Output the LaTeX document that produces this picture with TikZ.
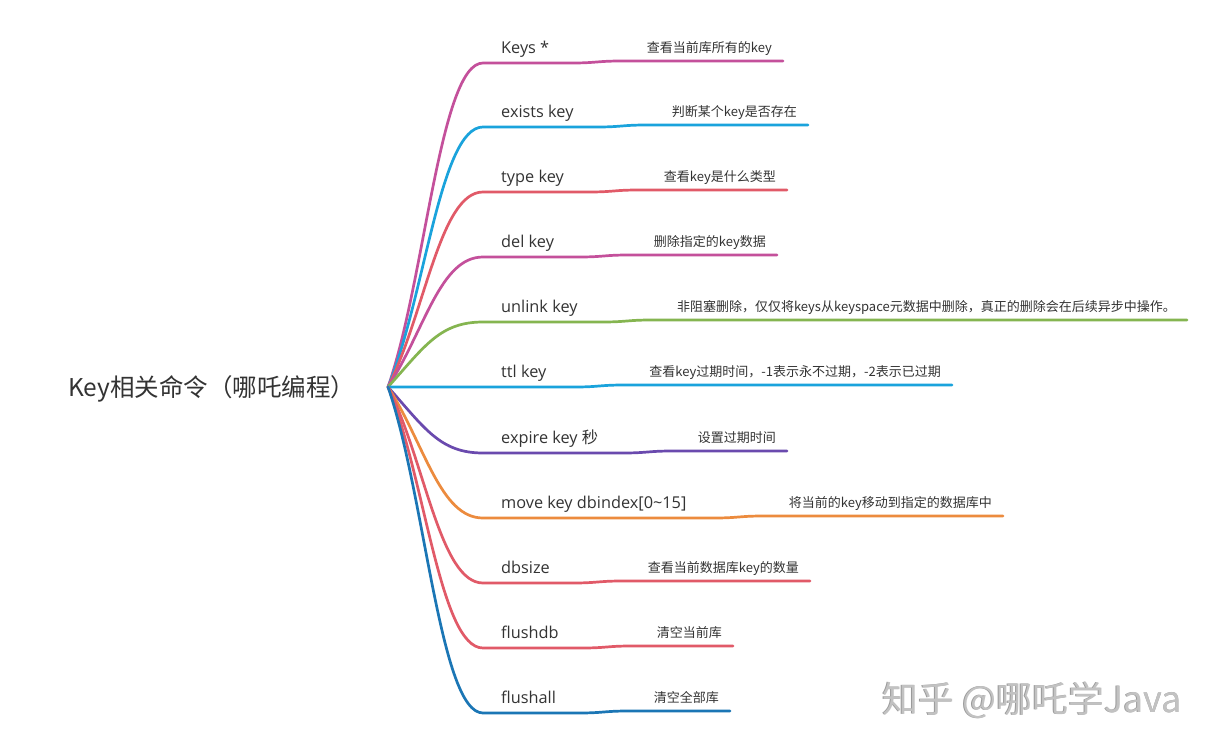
\documentclass[tikz,border=0pt]{standalone}
\usepackage{fontspec}
\usetikzlibrary{calc}
\setmainfont{Open Sans}
\newfontfamily\cjk{Noto Sans CJK SC}
\newfontfamily\lat{Open Sans}
\definecolor{pinkc}{HTML}{C4509B}
\definecolor{cyanc}{HTML}{1AA3DC}
\definecolor{redc}{HTML}{E15A68}
\definecolor{greenc}{HTML}{85B550}
\definecolor{purplec}{HTML}{6A4AAE}
\definecolor{orangec}{HTML}{EC8B3E}
\definecolor{bluec}{HTML}{1B76B5}
\definecolor{txt}{HTML}{333333}
\tikzset{
  lbl/.style={inner sep=0pt, text=txt, font=\lat\fontsize{16.3}{18}\selectfont},
  dsc/.style={inner sep=0pt, text=txt, font=\cjk\fontsize{13}{15}\selectfont},
  branchline/.style={line width=2.7pt, line cap=round},
  wmark/.style={inner sep=0pt, font=\cjk\fontsize{36}{38}\selectfont, anchor=base west},
}
\newcommand\mmbranch[6]{%
  \coordinate (#1s) at (483,#2);
  \coordinate (#1e) at (#6,#2-2);
  \node[lbl, anchor=base west] (#1l) at (501,#2-10) {#4};
  \node[dsc, anchor=base east] (#1d) at (#6-11,#2-11) {#5};
  \coordinate (#1a) at ($(#1d.west |- #1s)+(-75,0)$);
  \coordinate (#1b) at ($(#1d.west |- #1e)+(-25,0)$);
  \draw[branchline, #3] (hub) .. controls (425,{387+0.25*(#2-387)+25*sign(#2-387)}) and (440,#2) .. (#1s)
     -- (#1a) .. controls ($(#1a)+(25,0)$) and ($(#1b)+(-25,0)$) .. (#1b) -- (#1e);
}
\begin{document}
\begin{tikzpicture}[x=1pt,y=-1pt]
\useasboundingbox (0,0) rectangle (1216,745);
\fill[white] (0,0) rectangle (1216,745);
\node[inner sep=0pt, text=txt, font=\cjk\fontsize{24.5}{27}\selectfont, anchor=base west] (root) at (68,396) {Key相关命令（哪吒编程）};
\coordinate (hub) at (388,387);
\mmbranch{k1}{63}{pinkc}{Keys *}{查看当前库所有的key}{783}
\mmbranch{k2}{127}{cyanc}{exists key}{判断某个key是否存在}{808}
\mmbranch{k3}{192}{redc}{type key}{查看key是什么类型}{787}
\mmbranch{k4}{257}{pinkc}{del key}{删除指定的key数据}{777}
\mmbranch{k5}{322}{greenc}{unlink key}{非阻塞删除，仅仅将keys从keyspace元数据中删除，真正的删除会在后续异步中操作。}{1187}
\mmbranch{k6}{387}{cyanc}{ttl key}{查看key过期时间，-1表示永不过期，-2表示已过期}{952}
\mmbranch{k7}{453}{purplec}{expire key {\cjk 秒}}{设置过期时间}{787}
\mmbranch{k8}{518}{orangec}{move key dbindex[0\char`\~15]}{将当前的key移动到指定的数据库中}{1003}
\mmbranch{k9}{583}{redc}{dbsize}{查看当前数据库key的数量}{810}
\mmbranch{k10}{648}{redc}{flushdb}{清空当前库}{733}
\mmbranch{k11}{713}{bluec}{flushall}{清空全部库}{730}
\node[wmark, text=black!40] (wms) at (881.3,712.8) {知乎 @哪吒学Java};
\node[wmark, text=black!24] (wm) at (882,712) {知乎 @哪吒学Java};
\end{tikzpicture}
\end{document}
